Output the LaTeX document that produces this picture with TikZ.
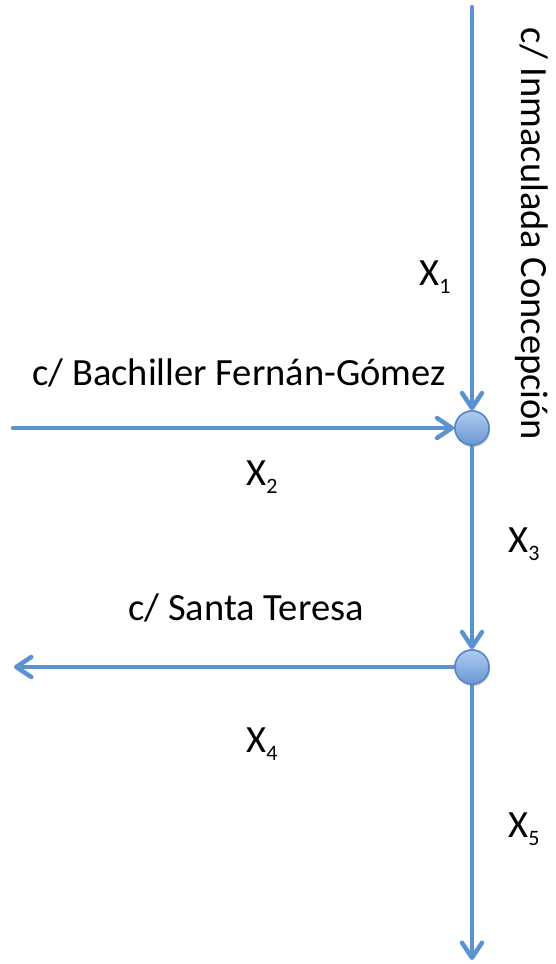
\documentclass[tikz,border=0pt]{standalone}
\usepackage{fontspec}
\setmainfont{Carlito}
\usetikzlibrary{arrows.meta,shadows}
\definecolor{street}{RGB}{91,146,208}
\definecolor{junctionfill}{RGB}{120,168,232}
\definecolor{junctionedge}{RGB}{84,136,198}
\newcommand{\flowsub}[1]{\raisebox{-8pt}{\fontsize{22}{22}\selectfont #1}}
\tikzset{
  flow/.style={draw=street, line width=4.5pt, line cap=round,
    -{Straight Barb[length=15pt,width=20pt,line cap=round,line join=round]}},
  junction/.style={circle, minimum size=34pt, inner sep=0pt,
    draw=junctionedge, line width=1.5pt,
    top color=junctionfill!60!white, bottom color=junctionfill!90!black,
    drop shadow={shadow xshift=1pt, shadow yshift=-2pt, opacity=0.25}},
  lbl/.style={font=\fontsize{38.5}{40}\selectfont, inner sep=0pt, anchor=base},
}
\begin{document}
\begin{tikzpicture}[x=1pt,y=-1pt]
\useasboundingbox (0,0) rectangle (555,964);
% junctions
\node[junction] (j1) at (472,428) {};
\node[junction] (j2) at (472,667) {};
\coordinate (top) at (472,7);
\coordinate (west1) at (13,428);
\coordinate (west2) at (14,667);
\coordinate (bottom) at (472,960);
% streets
\draw[flow] (top) -- (j1.north);
\draw[flow] (west1) -- (j1.west);
\draw[flow] (j1.south) -- (j2.north);
\draw[flow] (j2.west) -- (west2);
\draw[flow] (j2.south) -- (bottom);
\node[junction] at (j1) {};
\node[junction] at (j2) {};
% street names
\node[lbl, rotate=-90] (inma) at (521,234) {c/ Inmaculada Concepción};
\node[lbl] (bach) at (239,385) {c/ Bachiller Fernán-Gómez};
\node[lbl] (sta) at (246,620) {c/ Santa Teresa};
% flow variables
\node[lbl] (x1) at (435,285) {X\flowsub{1}};
\node[lbl] (x2) at (262,485) {X\flowsub{2}};
\node[lbl] (x3) at (524,552) {X\flowsub{3}};
\node[lbl] (x4) at (262,752) {X\flowsub{4}};
\node[lbl] (x5) at (524,837) {X\flowsub{5}};
\end{tikzpicture}
\end{document}
